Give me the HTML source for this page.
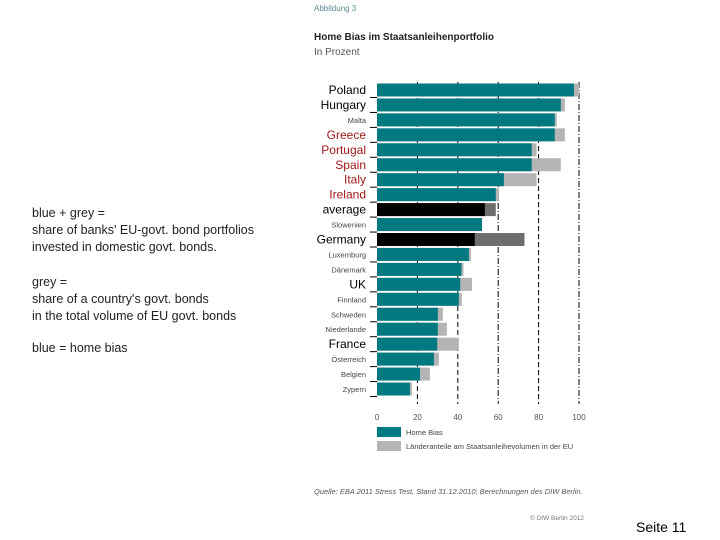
<!DOCTYPE html>
<html><head><meta charset="utf-8"><style>
body{margin:0;width:720px;height:540px;background:#fff;position:relative;overflow:hidden;font-family:"Liberation Sans",sans-serif}
.note{position:absolute;left:32px;font-size:12.5px;color:#222;line-height:17px}
</style></head><body>
<div class="note" style="top:205px">blue + grey =<br>share of banks' EU-govt. bond portfolios<br>invested in domestic govt. bonds.</div>
<div class="note" style="top:274px">grey =<br>share of a country's govt. bonds<br>in the total volume of EU govt. bonds</div>
<div class="note" style="top:340px">blue = home bias</div>
<div style="position:absolute;left:636px;top:519px;font-size:14px;color:#000">Seite 11</div>
<svg id="chart" width="720" height="540" style="position:absolute;left:0;top:0">
<text x="314" y="11" font-size="8" fill="#5a8a90">Abbildung 3</text>
<text x="314" y="40" font-size="10" font-weight="bold" fill="#222">Home Bias im Staatsanleihenportfolio</text>
<text x="314" y="55" font-size="10" fill="#555">In Prozent</text>
<text x="314" y="494" font-size="7.5" font-style="italic" fill="#555">Quelle: EBA 2011 Stress Test, Stand 31.12.2010; Berechnungen des DIW Berlin.</text>
<text x="530" y="520" font-size="6.5" fill="#777">© DIW Berlin 2012</text>
<g id="grid"></g><g id="bars"></g><g id="labels"></g><g id="ticks"></g>
<rect x="377" y="427" width="24" height="10" fill="#007a80"/>
<text x="406" y="435" font-size="7.5" fill="#444">Home Bias</text>
<rect x="377" y="441" width="24" height="10" fill="#b4b4b4"/>
<text x="406" y="449" font-size="7.5" fill="#444">Länderanteile am Staatsanleihevolumen in der EU</text>
</svg>
<script>
const categories=["Poland","Hungary","Malta","Greece","Portugal","Spain","Italy","Ireland","average","Slowenien","Germany","Luxemburg","Dänemark","UK","Finnland","Schweden","Niederlande","France","Österreich","Belgien","Zypern"];
const homeBias=[97.5,91,88,88,76.6,76.6,62.8,58.8,53.4,52,48.4,45.5,41.8,41.2,40.5,30.1,30.1,29.8,28.2,21.3,16.3];
const totalShare=[100,93,89,93,79,91,79,60.3,58.8,52,73,46.5,42.8,47,42,32.6,34.6,40.5,30.6,26.2,17.3];
const xTicks=[0,20,40,60,80,100];
const big={"Poland":"#000","Hungary":"#000","Greece":"#a01818","Portugal":"#a01818","Spain":"#a01818","Italy":"#a01818","Ireland":"#a01818","average":"#000","Germany":"#000","UK":"#000","France":"#000"};
const NS="http://www.w3.org/2000/svg";
const x=v=>377+v*2.02;
const yc=i=>90+i*14.95;
function mk(t,a,p){const e=document.createElementNS(NS,t);for(const k in a)e.setAttribute(k,a[k]);document.getElementById(p).appendChild(e);return e;}
xTicks.forEach((t,j)=>{
  if(t>0){const g=mk('line',{x1:x(t),x2:x(t),y1:82,y2:404,stroke:'#000','stroke-width':1,'stroke-dasharray':t%60===0||t===100?'6,2,1,2':'5,3'},'grid');
  
  }
  const l=mk('text',{x:x(t),y:420,'font-size':8,fill:'#555','text-anchor':'middle'},'ticks');l.textContent=t;
  
  
});
categories.forEach((c,i)=>{
  const dark=(c==='average'||c==='Germany');
  const r2=mk('rect',{x:x(0),y:yc(i)-6.5,width:x(totalShare[i])-x(0),height:13,fill:dark?'#6e6e6e':'#b4b4b4'},'bars');
  
  
  const r=mk('rect',{x:x(0),y:yc(i)-6.5,width:x(homeBias[i])-x(0),height:13,fill:dark?'#000':'#007a80'},'bars');
  
  
  const isBig=big[c]!==undefined;
  const t=mk('text',{x:366,y:yc(i)+(isBig?4:3),'font-size':isBig?12:7.5,fill:isBig?big[c]:'#444','text-anchor':'end'},'labels');
  t.textContent=c;
  
  
  const tk=mk('line',{x1:370,x2:377,y1:yc(i)+7.5,y2:yc(i)+7.5,stroke:'#000','stroke-width':1},'ticks');
  
  
});
</script>
</body></html>
